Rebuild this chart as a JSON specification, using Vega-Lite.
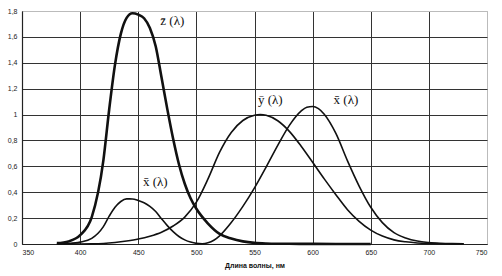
{
  "$schema": "https://vega.github.io/schema/vega-lite/v6.json",
  "width": 465,
  "height": 233,
  "autosize": {"type": "none"},
  "padding": {"left": 22, "top": 11, "right": 15, "bottom": 32},
  "background": "white",
  "config": {
    "view": {"stroke": "#bbbbbb", "strokeWidth": 1},
    "axis": {"labelFont": "Liberation Sans", "labelFontSize": 7, "labelColor": "#222", "labelOverlap": false, "ticks": false, "gridColor": "#333333", "gridWidth": 1, "gridOpacity": 1, "domainColor": "#222", "domainWidth": 1.2},
    "axisX": {"tickCount": 20, "labelPadding": 4},
    "axisY": {"tickCount": 20, "labelPadding": 5}
  },
  "datasets": {
    "cmf": [
      {"lam": 380, "v": 0.0014, "s": "x"}, {"lam": 390, "v": 0.0042, "s": "x"}, {"lam": 400, "v": 0.0143, "s": "x"}, {"lam": 410, "v": 0.0435, "s": "x"}, {"lam": 420, "v": 0.1344, "s": "x"}, {"lam": 425, "v": 0.2148, "s": "x"}, {"lam": 430, "v": 0.2839, "s": "x"}, {"lam": 435, "v": 0.3285, "s": "x"}, {"lam": 440, "v": 0.3483, "s": "x"}, {"lam": 445, "v": 0.3481, "s": "x"}, {"lam": 450, "v": 0.3362, "s": "x"}, {"lam": 455, "v": 0.3187, "s": "x"}, {"lam": 460, "v": 0.2908, "s": "x"}, {"lam": 465, "v": 0.2511, "s": "x"}, {"lam": 470, "v": 0.1954, "s": "x"}, {"lam": 475, "v": 0.1421, "s": "x"}, {"lam": 480, "v": 0.0956, "s": "x"}, {"lam": 485, "v": 0.058, "s": "x"}, {"lam": 490, "v": 0.032, "s": "x"}, {"lam": 495, "v": 0.0147, "s": "x"}, {"lam": 500, "v": 0.0049, "s": "x"}, {"lam": 505, "v": 0.0024, "s": "x"}, {"lam": 510, "v": 0.0093, "s": "x"}, {"lam": 515, "v": 0.0291, "s": "x"}, {"lam": 520, "v": 0.0633, "s": "x"}, {"lam": 530, "v": 0.1655, "s": "x"}, {"lam": 540, "v": 0.2904, "s": "x"}, {"lam": 550, "v": 0.4334, "s": "x"}, {"lam": 560, "v": 0.5945, "s": "x"}, {"lam": 570, "v": 0.7621, "s": "x"}, {"lam": 580, "v": 0.9163, "s": "x"}, {"lam": 590, "v": 1.0263, "s": "x"}, {"lam": 595, "v": 1.0567, "s": "x"}, {"lam": 600, "v": 1.0622, "s": "x"}, {"lam": 605, "v": 1.0456, "s": "x"}, {"lam": 610, "v": 1.0026, "s": "x"}, {"lam": 620, "v": 0.8544, "s": "x"}, {"lam": 630, "v": 0.6424, "s": "x"}, {"lam": 640, "v": 0.4479, "s": "x"}, {"lam": 650, "v": 0.2835, "s": "x"}, {"lam": 660, "v": 0.1649, "s": "x"}, {"lam": 670, "v": 0.0874, "s": "x"}, {"lam": 680, "v": 0.0468, "s": "x"}, {"lam": 690, "v": 0.0227, "s": "x"}, {"lam": 700, "v": 0.0114, "s": "x"}, {"lam": 710, "v": 0.0058, "s": "x"}, {"lam": 720, "v": 0.0029, "s": "x"}, {"lam": 730, "v": 0.0014, "s": "x"},
      {"lam": 380, "v": 0.0000, "s": "y"}, {"lam": 400, "v": 0.0004, "s": "y"}, {"lam": 410, "v": 0.0012, "s": "y"}, {"lam": 420, "v": 0.004, "s": "y"}, {"lam": 430, "v": 0.0116, "s": "y"}, {"lam": 440, "v": 0.023, "s": "y"}, {"lam": 450, "v": 0.038, "s": "y"}, {"lam": 460, "v": 0.06, "s": "y"}, {"lam": 470, "v": 0.091, "s": "y"}, {"lam": 480, "v": 0.139, "s": "y"}, {"lam": 490, "v": 0.208, "s": "y"}, {"lam": 500, "v": 0.323, "s": "y"}, {"lam": 510, "v": 0.503, "s": "y"}, {"lam": 520, "v": 0.71, "s": "y"}, {"lam": 530, "v": 0.862, "s": "y"}, {"lam": 540, "v": 0.954, "s": "y"}, {"lam": 550, "v": 0.995, "s": "y"}, {"lam": 555, "v": 1.0, "s": "y"}, {"lam": 560, "v": 0.995, "s": "y"}, {"lam": 570, "v": 0.952, "s": "y"}, {"lam": 580, "v": 0.87, "s": "y"}, {"lam": 590, "v": 0.757, "s": "y"}, {"lam": 600, "v": 0.631, "s": "y"}, {"lam": 610, "v": 0.503, "s": "y"}, {"lam": 620, "v": 0.381, "s": "y"}, {"lam": 630, "v": 0.265, "s": "y"}, {"lam": 640, "v": 0.175, "s": "y"}, {"lam": 650, "v": 0.107, "s": "y"}, {"lam": 660, "v": 0.061, "s": "y"}, {"lam": 670, "v": 0.032, "s": "y"}, {"lam": 680, "v": 0.017, "s": "y"}, {"lam": 690, "v": 0.0082, "s": "y"}, {"lam": 700, "v": 0.0041, "s": "y"}, {"lam": 710, "v": 0.0021, "s": "y"}, {"lam": 720, "v": 0.001, "s": "y"}, {"lam": 730, "v": 0.0005, "s": "y"},
      {"lam": 380, "v": 0.0065, "s": "z"}, {"lam": 390, "v": 0.0201, "s": "z"}, {"lam": 400, "v": 0.0679, "s": "z"}, {"lam": 410, "v": 0.2074, "s": "z"}, {"lam": 420, "v": 0.6456, "s": "z"}, {"lam": 425, "v": 1.0391, "s": "z"}, {"lam": 430, "v": 1.3856, "s": "z"}, {"lam": 435, "v": 1.623, "s": "z"}, {"lam": 440, "v": 1.7471, "s": "z"}, {"lam": 445, "v": 1.7826, "s": "z"}, {"lam": 450, "v": 1.7721, "s": "z"}, {"lam": 455, "v": 1.7441, "s": "z"}, {"lam": 460, "v": 1.6692, "s": "z"}, {"lam": 465, "v": 1.5281, "s": "z"}, {"lam": 470, "v": 1.2876, "s": "z"}, {"lam": 475, "v": 1.0419, "s": "z"}, {"lam": 480, "v": 0.813, "s": "z"}, {"lam": 485, "v": 0.6162, "s": "z"}, {"lam": 490, "v": 0.4652, "s": "z"}, {"lam": 495, "v": 0.3533, "s": "z"}, {"lam": 500, "v": 0.272, "s": "z"}, {"lam": 510, "v": 0.1582, "s": "z"}, {"lam": 520, "v": 0.0783, "s": "z"}, {"lam": 530, "v": 0.0422, "s": "z"}, {"lam": 540, "v": 0.0203, "s": "z"}, {"lam": 550, "v": 0.0088, "s": "z"}, {"lam": 560, "v": 0.0039, "s": "z"}, {"lam": 570, "v": 0.0021, "s": "z"}, {"lam": 580, "v": 0.0017, "s": "z"}, {"lam": 600, "v": 0.0008, "s": "z"}, {"lam": 620, "v": 0.0002, "s": "z"}, {"lam": 650, "v": 0.0, "s": "z"}
    ],
    "labels": [
      {"lam": 469, "v": 1.72, "t": "z̄ (λ)"},
      {"lam": 553, "v": 1.115, "t": "ȳ (λ)"},
      {"lam": 618, "v": 1.115, "t": "x̄ (λ)"},
      {"lam": 454, "v": 0.48, "t": "x̄ (λ)"}
    ]
  },
  "layer": [
    {
      "data": {"name": "cmf"},
      "transform": [{"filter": "datum.s !== 'z'"}],
      "mark": {"type": "line", "color": "#111", "strokeWidth": 1.6, "interpolate": "monotone"},
      "encoding": {
        "x": {"field": "lam", "type": "quantitative", "scale": {"domain": [350, 750], "nice": false}, "axis": {"tickCount": 20, "values": [350, 400, 450, 500, 550, 600, 650, 700, 750], "labelOverlap": false, "title": "Длина волны, нм", "titleFont": "Liberation Sans", "titleFontSize": 7, "titleFontWeight": "bold", "titleColor": "#111", "titlePadding": 6, "gridColor": {"condition": {"test": "datum.value >= 749", "value": "#bbbbbb"}, "value": "#333333"}}},
        "y": {"field": "v", "type": "quantitative", "scale": {"domain": [0, 1.8], "nice": false}, "axis": {"tickCount": 20, "values": [0, 0.2, 0.4, 0.6, 0.8, 1, 1.2, 1.4, 1.6, 1.8], "labelOverlap": false, "title": null, "labelExpr": "replace(format(datum.value, '~g'), '.', ',')", "gridColor": {"condition": {"test": "datum.value >= 1.79", "value": "#bbbbbb"}, "value": "#333333"}}},
        "detail": {"field": "s"}
      }
    },
    {
      "data": {"name": "cmf"},
      "transform": [{"filter": "datum.s === 'z'"}],
      "mark": {"type": "line", "color": "#111", "strokeWidth": 2.6, "interpolate": "monotone"},
      "encoding": {
        "x": {"field": "lam", "type": "quantitative"},
        "y": {"field": "v", "type": "quantitative"}
      }
    },
    {
      "data": {"name": "labels"},
      "mark": {"type": "text", "font": "Liberation Serif", "fontSize": 13, "align": "left", "baseline": "middle", "color": "#111"},
      "encoding": {
        "x": {"field": "lam", "type": "quantitative"},
        "y": {"field": "v", "type": "quantitative"},
        "text": {"field": "t"}
      }
    }
  ]
}
